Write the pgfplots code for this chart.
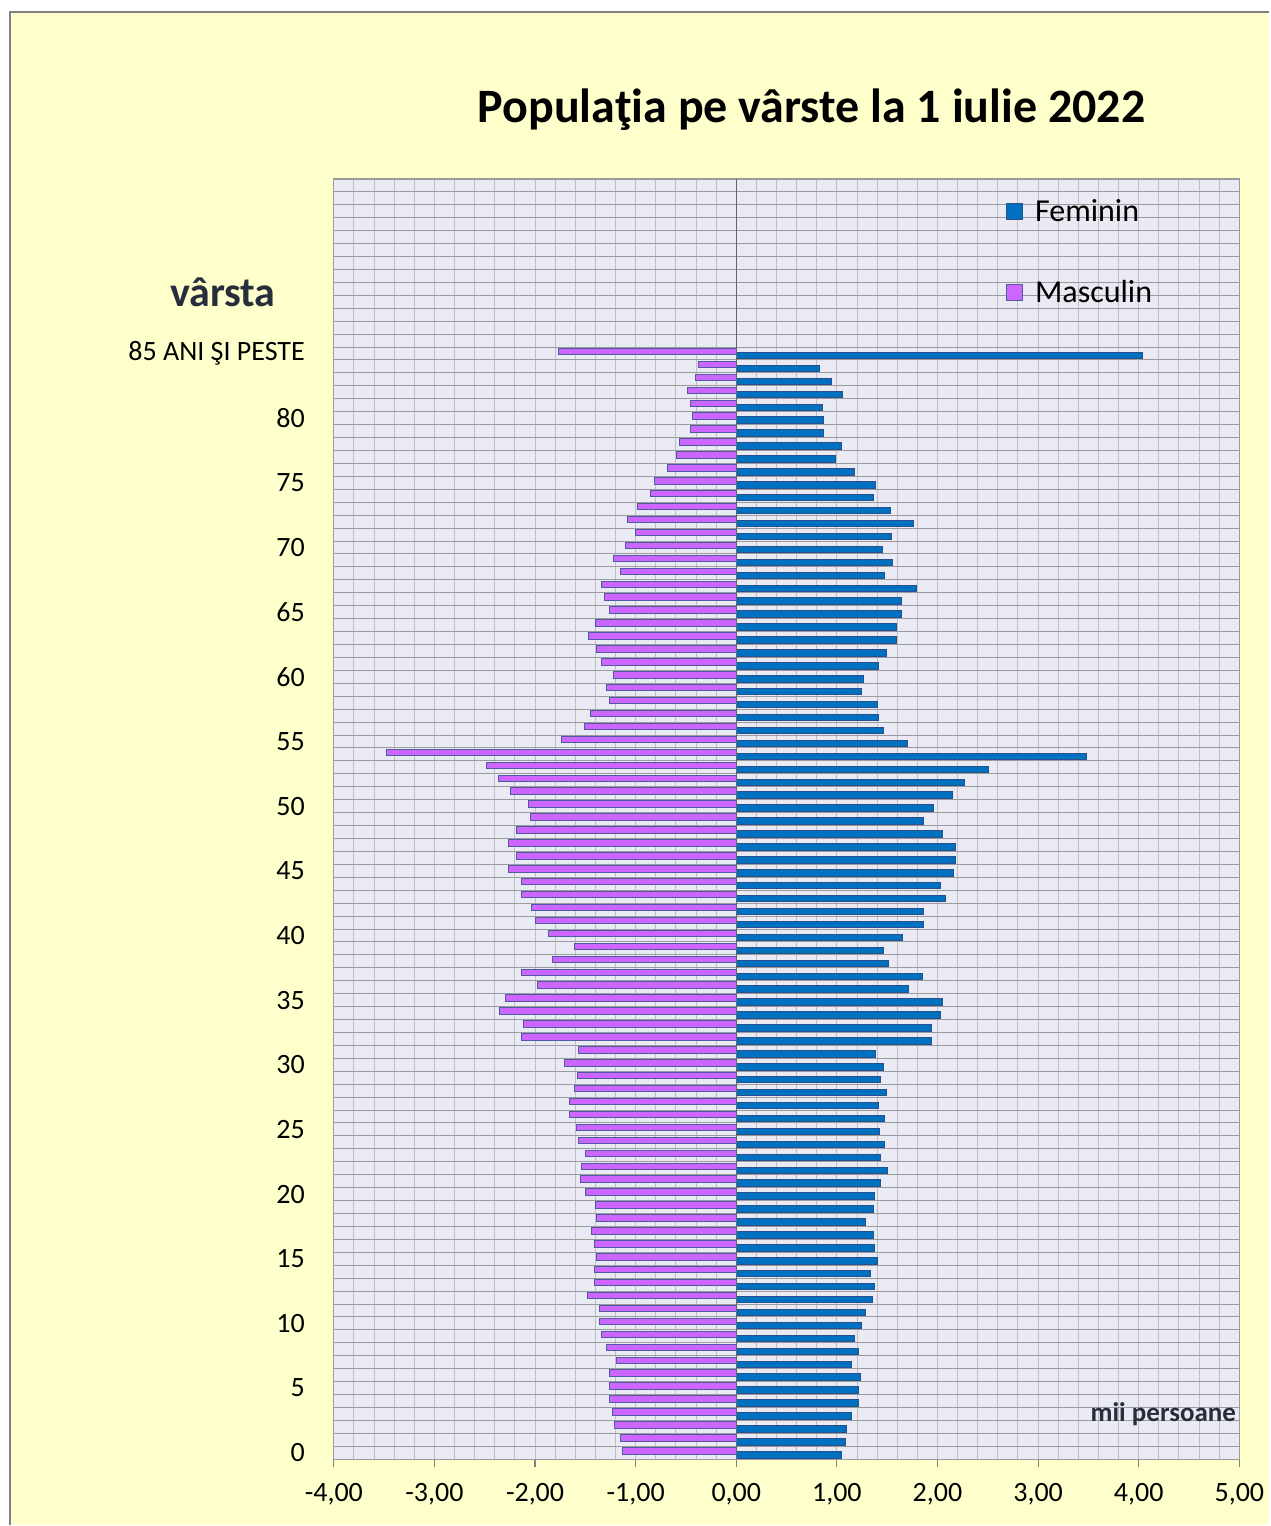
\documentclass[border=0pt]{standalone}
\usepackage{fontspec}
\setmainfont{Carlito}
\usepackage{pgfplots}
\pgfplotsset{compat=1.18}
\usepackage{pgfplotstable}
\definecolor{bgyellow}{RGB}{255,255,204}
\definecolor{plotbg}{RGB}{234,234,244}
\definecolor{fblue}{RGB}{0,112,192}
\definecolor{fblueedge}{RGB}{40,80,140}
\definecolor{mpurple}{RGB}{204,102,255}
\definecolor{mpurpleedge}{RGB}{80,90,160}
\definecolor{darktxt}{RGB}{38,46,60}
\definecolor{hgrid}{RGB}{155,155,158}
\definecolor{vgrid}{RGB}{190,190,196}

\pgfplotstableread{
age F M
0 1.046 -1.132
1 1.083 -1.146
2 1.096 -1.209
3 1.146 -1.235
4 1.212 -1.258
5 1.212 -1.258
6 1.235 -1.258
7 1.146 -1.195
8 1.212 -1.285
9 1.172 -1.338
10 1.248 -1.361
11 1.288 -1.361
12 1.351 -1.477
13 1.374 -1.414
14 1.338 -1.414
15 1.400 -1.388
16 1.374 -1.414
17 1.364 -1.437
18 1.288 -1.388
19 1.364 -1.400
20 1.374 -1.503
21 1.437 -1.553
22 1.503 -1.540
23 1.437 -1.503
24 1.477 -1.566
25 1.427 -1.589
26 1.477 -1.656
27 1.414 -1.656
28 1.490 -1.603
29 1.437 -1.579
30 1.464 -1.705
31 1.387 -1.566
32 1.937 -2.139
33 1.937 -2.113
34 2.026 -2.354
35 2.050 -2.291
36 1.709 -1.974
37 1.848 -2.139
38 1.517 -1.831
39 1.464 -1.603
40 1.656 -1.871
41 1.861 -1.997
42 1.861 -2.036
43 2.076 -2.139
44 2.026 -2.139
45 2.162 -2.265
46 2.175 -2.180
47 2.175 -2.265
48 2.050 -2.180
49 1.861 -2.050
50 1.960 -2.063
51 2.150 -2.240
52 2.270 -2.360
53 2.510 -2.480
54 3.480 -3.480
55 1.705 -1.742
56 1.464 -1.513
57 1.414 -1.450
58 1.400 -1.262
59 1.248 -1.285
60 1.262 -1.222
61 1.414 -1.338
62 1.490 -1.388
63 1.593 -1.473
64 1.593 -1.398
65 1.639 -1.262
66 1.642 -1.311
67 1.795 -1.338
68 1.477 -1.146
69 1.553 -1.222
70 1.454 -1.106
71 1.540 -1.003
72 1.758 -1.083
73 1.530 -0.980
74 1.365 -0.851
75 1.387 -0.815
76 1.172 -0.685
77 0.983 -0.596
78 1.046 -0.569
79 0.868 -0.457
80 0.868 -0.434
81 0.858 -0.457
82 1.056 -0.483
83 0.945 -0.407
84 0.830 -0.380
85 4.040 -1.770
}\data

\begin{document}
\begin{tikzpicture}[x=1pt,y=1pt]
\fill[white] (0,0) rectangle (635,763);
\fill[bgyellow] (5,0) rectangle (635,757);
\draw[gray, line width=0.8pt] (5,0) -- (5,757) -- (635,757);
\begin{axis}[
  at={(167pt,33pt)}, anchor=south west,
  scale only axis, width=453pt, height=640.5pt,
  xmin=-4, xmax=5, ymin=-0.5, ymax=98.5,
  axis background/.style={fill=plotbg},
  axis line style={draw=hgrid, line width=0.6pt},
  xbar, bar width=0.5,
  xtick={-4,...,5},
  xticklabels={{-4,00},{-3,00},{-2,00},{-1,00},{0,00},{1,00},{2,00},{3,00},{4,00},{5,00}},
  minor x tick num=4,
  xmajorgrids, xminorgrids,
  x grid style={vgrid, line width=0.5pt},
  ytick={0,5,...,85},
  yticklabels={0,5,10,15,20,25,30,35,40,45,50,55,60,65,70,75,80,85 ANI ŞI PESTE},
  minor ytick={-0.5,0.5,...,98.5},
  ymajorgrids=false, yminorgrids=true,
  y grid style={hgrid, line width=0.5pt},
  tick align=outside, xtick pos=lower, ytick pos=left,
  major tick length=4pt, minor tick length=0pt,
  tick style={draw=gray, line width=0.6pt},
  ytick style={draw=none},
  ticklabel style={font=\fontsize{14}{16}\selectfont},
  yticklabel style={anchor=east, xshift=-7pt},
  xticklabel style={yshift=-4.5pt},
  legend style={at={(0.742,0.9875)}, anchor=north west, draw=none, fill=none,
    font=\fontsize{16}{19}\selectfont, row sep=24pt, column sep=4pt, inner sep=0pt},
  legend cell align=left,
  legend image code/.code={\draw[#1] (0pt,-4pt) rectangle (8pt,4pt);},
]
\addplot[fill=fblue, draw=fblueedge, line width=0.5pt] table[x=F, y expr=\thisrow{age}+0.25] {\data};
\addplot[fill=mpurple, draw=mpurpleedge, line width=0.5pt] table[x=M, y expr=\thisrow{age}-0.25] {\data};
\draw[gray!80!black, line width=0.6pt] (axis cs:0,-0.5) -- (axis cs:0,98.5);
\legend{Feminin,Masculin}
\end{axis}
\node[font=\fontsize{24}{28}\selectfont\bfseries] at (406,708) {Populaţia pe vârste la 1 iulie 2022};
\node[font=\fontsize{21}{25}\selectfont\bfseries, text=darktxt] at (111.5,617) {vârsta};
\node[anchor=east, inner sep=0pt, font=\fontsize{13.5}{15}\selectfont\bfseries, text=darktxt] at (618.5,55.5) {mii persoane};
\end{tikzpicture}
\end{document}
